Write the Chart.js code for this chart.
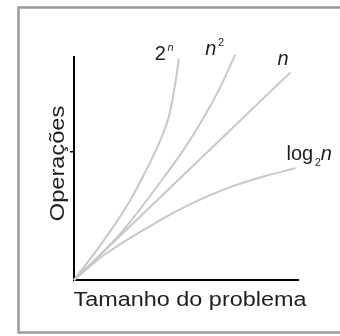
<!DOCTYPE html>
<html>
<head>
<meta charset="utf-8">
<script src="https://cdn.jsdelivr.net/npm/chart.js"></script>
<style>
  html, body { margin: 0; padding: 0; background: #fff; overflow: hidden; }
  canvas { display: block; }
</style>
</head>
<body>
<canvas id="c" width="340" height="336"></canvas>
<script>
// values (problem size vs. operations, arbitrary units 0..10)
const expSizes = [0, 1.34, 2.51, 3.22, 3.85, 4.25, 4.47, 4.61, 4.68];
const expOps = [0, 1.79, 3.58, 4.92, 6.26, 7.38, 8.50, 9.40, 9.93];

const quadSizes = [0, 2.01, 4.03, 4.97, 5.79, 6.53, 7.20];
const quadOps = [0, 2.01, 4.63, 5.96, 7.29, 8.65, 10.11];

const linSizes = [0, 9.66];
const linOps = [0, 9.31];

const logSizes = [0, 1.34, 3.85, 5.19, 6.85, 8.50, 9.89];
const logOps = [0, 1.12, 2.68, 3.40, 4.12, 4.65, 5.01];

const yTicks = [5.75];

const xTitle = "Tamanho do problema";
const yTitle = "Operações";

// curve labels, as runs of text
const curveLabels = [
  [{ t: "2" }, { t: "n", sup: true, italic: true }],
  [{ t: "n", italic: true }, { t: "2", sup: true }],
  [{ t: "n", italic: true }],
  [{ t: "log" }, { t: "2", sub: true }, { t: "n", italic: true }],
];

const FONT = "'Liberation Sans', Arial, sans-serif";
const LINE = "#c8c8c8";

const pts = (xs, ys) => xs.map((x, i) => ({ x, y: ys[i] }));

function drawRich(ctx, parts, x, y) {
  parts.forEach(p => {
    const small = p.sup || p.sub;
    ctx.font = (p.italic ? "italic " : "") + (small ? 11 : 20) + "px " + FONT;
    if (small) x += 1.5;
    const dy = p.sup ? -9 : p.sub ? 6 : 0;
    ctx.fillText(p.t, x, y + dy);
    x += ctx.measureText(p.t).width;
  });
}

// grey frame, open on the right like the cropped original
const framePlugin = {
  id: "frame",
  beforeDraw(chart) {
    const ctx = chart.ctx;
    ctx.save();
    ctx.fillStyle = "#fff";
    ctx.fillRect(0, 0, chart.width, chart.height);
    ctx.strokeStyle = "#9a9a9a";
    ctx.lineWidth = 2.5;
    ctx.beginPath();
    ctx.moveTo(chart.width + 5, 7.5);
    ctx.lineTo(18.5, 7.5);
    ctx.lineTo(18.5, 332.5);
    ctx.lineTo(chart.width + 5, 332.5);
    ctx.stroke();
    ctx.restore();
  },
};

// label offsets from each curve's last point (left, baseline)
const labelOffsets = [[-24, 1], [-30, 0], [-13, -7], [-9, -8]];

const textPlugin = {
  id: "texts",
  afterDraw(chart) {
    const ctx = chart.ctx;
    const a = chart.chartArea;
    ctx.save();
    ctx.fillStyle = "#1e1e1e";
    ctx.textBaseline = "alphabetic";

    chart.data.datasets.forEach((ds, i) => {
      const meta = chart.getDatasetMeta(i);
      const last = meta.data[meta.data.length - 1];
      const [ox, oy] = labelOffsets[i];
      ctx.textAlign = "left";
      drawRich(ctx, curveLabels[i], last.x + ox, last.y + oy);
    });

    // axis titles, drawn a little wide like the original
    ctx.font = "20px " + FONT;
    ctx.textAlign = "center";
    ctx.save();
    ctx.translate((a.left + a.right) / 2 + 4, a.bottom + 26);
    ctx.scale(1.17, 1);
    ctx.fillText(xTitle, 0, 0);
    ctx.restore();

    ctx.save();
    ctx.translate(a.left - 10, (a.top + a.bottom) / 2 - 5);
    ctx.rotate(-Math.PI / 2);
    ctx.scale(1.18, 1);
    ctx.fillText(yTitle, 0, 0);
    ctx.restore();

    ctx.restore();
  },
};

const lineDs = (data) => ({
  data,
  borderColor: LINE,
  borderWidth: 2,
  pointRadius: 0,
  fill: false,
  clip: false,
  cubicInterpolationMode: "monotone",
});

new Chart(document.getElementById("c"), {
  type: "line",
  data: {
    datasets: [
      lineDs(pts(expSizes, expOps)),
      lineDs(pts(quadSizes, quadOps)),
      lineDs(pts(linSizes, linOps)),
      lineDs(pts(logSizes, logOps)),
    ],
  },
  options: {
    responsive: false,
    devicePixelRatio: 1,
    animation: false,
    events: [],
    layout: { padding: { left: 70, right: 42, top: 57, bottom: 56 } },
    plugins: { legend: { display: false }, tooltip: { enabled: false } },
    scales: {
      x: {
        type: "linear",
        min: 0,
        max: 10,
        ticks: { display: false },
        grid: { display: false, drawTicks: false, tickLength: 0 },
        border: { display: true, color: "#000", width: 2 },
      },
      y: {
        type: "linear",
        min: 0,
        max: 10,
        afterBuildTicks: s => { s.ticks = yTicks.map(v => ({ value: v })); },
        ticks: { display: false },
        grid: { display: true, drawOnChartArea: false, drawTicks: true, tickLength: 4, color: "#000", lineWidth: 1.5 },
        border: { display: true, color: "#000", width: 2 },
      },
    },
  },
  plugins: [framePlugin, textPlugin],
});
</script>
</body>
</html>
